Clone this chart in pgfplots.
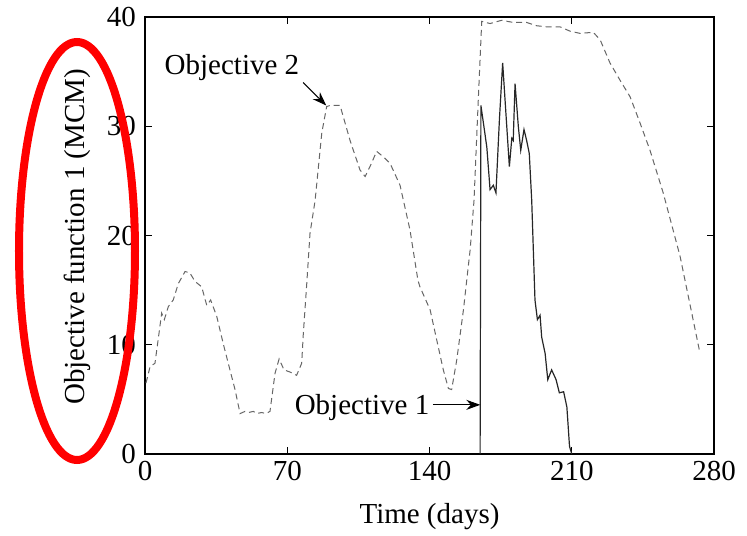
\documentclass[border=0pt]{standalone}
\usepackage{pgfplots}
\pgfplotsset{compat=1.18}
\usepackage{fontspec}
\setmainfont{Liberation Serif}
\usetikzlibrary{arrows.meta,calc}
\newcommand{\fs}{\fontsize{14.5}{17}\selectfont}
\begin{document}
\begin{tikzpicture}
\begin{axis}[
  name=ax,
  scale only axis,
  width=284.5pt, height=218.5pt,
  xmin=0, xmax=280, ymin=0, ymax=40,
  xtick={0,70,140,210,280},
  ytick={0,10,20,30,40},
  tick align=inside,
  major tick length=3.5pt,
  axis line style={line width=0.6pt},
  every tick/.style={black, line width=0.6pt},
  /pgf/number format/assume math mode=true,
  tick label style={font=\fs},
  yticklabel style={xshift=-1pt},
  label style={font=\fs},
  xlabel={Time (days)},
  ylabel={Objective function 1 (MCM)},
  xlabel style={at={(axis description cs:0.5,-0.144)}, anchor=center},
  ylabel style={at={(axis description cs:-0.118,0.497)}, anchor=center},
  clip=false,
]
\addplot[gray!80!black, densely dashed, line width=0.5pt] coordinates {
(0.5,6.5) (2.5,8.0) (4.9,8.3) (6.5,10.5) (8.2,12.9) (9.5,12.3) (11.5,13.5) (13.9,14.1)
(16.4,15.6) (19.7,16.7) (22,16.6) (24.6,15.8) (27.9,15.3) (30.4,13.6) (32.3,14.1) (35.3,12.6)
(38.5,10.1) (41.8,7.7) (44.3,5.9) (46.8,3.7) (49.2,3.9) (51,3.8) (53.3,3.9) (55,3.7)
(57.4,3.8) (59.5,3.7) (61.5,3.9) (64,7.4) (66,8.7) (68.4,7.7) (71.4,7.5) (74.6,7.2)
(77.1,8.3) (77.9,11.0) (79.6,15.6) (81.2,20.2) (83.7,23.2) (87,29.4) (89.4,31.8) (91,31.9)
(93.5,31.9) (96,31.9) (100.9,28.7) (105.8,26.0) (108.3,25.4) (110.7,26.3) (114,27.7) (117.3,27.2)
(120.6,26.6) (125.5,24.6) (130.4,20.5) (134.3,15.9) (135.3,15.3) (140.3,13.2) (143.6,10.4) (146.8,7.7)
(149.3,6.0) (150.9,5.9) (153.4,8.6) (156.7,13.2) (160,18.7) (161.9,23.2) (164,32.4) (165.7,39.6)
(169.8,39.4) (175.5,39.7) (181.2,39.5) (187.8,39.5) (192.7,39.2) (197.6,39.1) (204.2,39.1) (209.2,38.7)
(214.1,38.5) (220.6,38.6) (224,37.9) (228.8,35.8) (233.8,34.2) (238.7,32.7) (243.6,30.3) (248.5,27.8)
(255,23.9) (263.3,18.1) (272.8,9.5)
};
\addplot[black!85, line width=0.6pt] coordinates {
(164.9,0) (165.3,31.9) (168.2,28.1) (169.8,24.2) (171.4,24.6) (172.7,23.9) (174.4,30.6) (176,35.8)
(177.7,30.9) (179.3,26.3) (180.5,28.9) (181.2,28.7) (182.1,33.9) (183.7,30.0) (184.9,27.8) (186.5,29.7)
(187.8,28.7) (189.1,27.5) (190.3,23.2) (191.9,14.1) (193.1,12.3) (194.4,12.7) (195.2,10.7) (196.9,9.2)
(198.2,6.8) (200.1,7.7) (202.3,6.8) (203.9,5.6) (206,5.7) (207.6,4.3) (208.9,0.7) (210,0)
};
\node[font=\fs] at (axis cs:42.8,35.4) {Objective 2};
\draw[-{Stealth[length=7pt,width=5pt]}, line width=0.5pt] (axis cs:77.8,34.0) -- (axis cs:89.2,31.9);
\node[font=\fs] at (axis cs:106.8,4.3) {Objective 1};
\draw[-{Stealth[length=7pt,width=5pt]}, line width=0.5pt] (axis cs:141.7,4.5) -- (axis cs:165.0,4.5);
\end{axis}
\draw[red, line width=4pt] ($(ax.south west)+(-34pt,101.5pt)$) ellipse [x radius=29pt, y radius=104.5pt];
\pgfresetboundingbox
\path[use as bounding box] ($(ax.south west)+(-72.5pt,-40.5pt)$) rectangle ($(ax.north east)+(16.5pt,8.5pt)$);
\end{tikzpicture}
\end{document}
